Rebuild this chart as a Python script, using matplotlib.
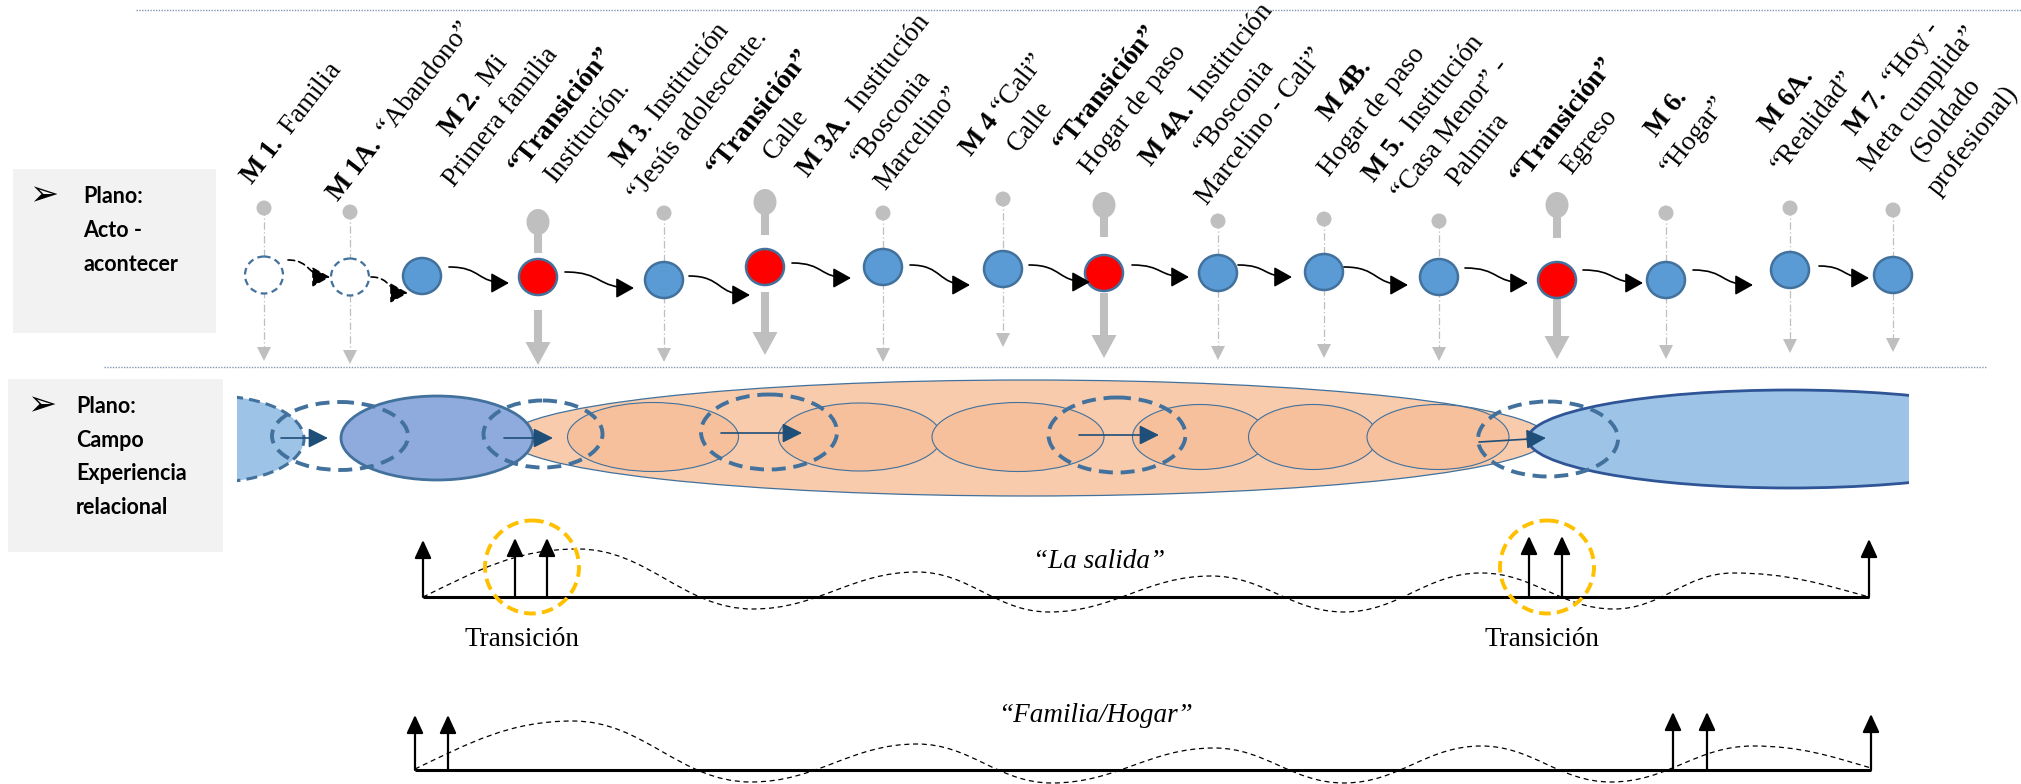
import matplotlib
matplotlib.use("Agg")
import matplotlib.pyplot as plt
from matplotlib.patches import Ellipse, Rectangle, FancyArrowPatch, Polygon, PathPatch
from matplotlib.path import Path
import math

plt.rcParams['mathtext.fontset'] = 'custom'
plt.rcParams['mathtext.rm'] = 'Liberation Serif'
plt.rcParams['mathtext.bf'] = 'Liberation Serif:bold'
plt.rcParams['mathtext.it'] = 'Liberation Serif:italic'

# ---------------- data ----------------
# Plano: Acto - acontecer (moments)
node_x = [264, 350, 422, 538, 664, 765, 883, 1003, 1104, 1218, 1324, 1439, 1557, 1666, 1790, 1893]
node_y = [275, 277, 276, 277, 280, 267, 267, 269, 273, 273, 272, 277, 280, 280, 270, 275]
node_kind = ['empty', 'empty', 'moment', 'transition', 'moment', 'transition', 'moment', 'moment',
             'transition', 'moment', 'moment', 'moment', 'transition', 'moment', 'moment', 'moment']
pin_top = [208, 212, None, 222, 213, 202, 213, 199, 205, 221, 219, 221, 205, 213, 208, 210]
pin_tip = [361, 364, None, 365, 362, 355, 362, 347, 358, 360, 358, 361, 359, 359, 353, 352]
bar_upper_end = [None, None, None, 253, None, 235, None, None, 237, None, None, None, 238, None, None, None]
bar_lower_start = [None, None, None, 310, None, 292, None, None, 293, None, None, None, 297, None, None, None]

labels = [
    [r"$\mathbf{M\ 1.}$ Familia"],
    [r"$\mathbf{M\ 1A.}$ “Abandono”"],
    [r"$\mathbf{M\ 2.}$ Mi", "Primera familia"],
    [r"$\mathbf{“Transición”}$", "Institución."],
    [r"$\mathbf{M\ 3}$. Institución", "“Jesús adolescente."],
    [r"$\mathbf{“Transición”}$", "Calle"],
    [r"$\mathbf{M\ 3A.}$ Institución", "“Bosconia", "Marcelino”"],
    [r"$\mathbf{M\ 4}$ “Cali”", "Calle"],
    [r"$\mathbf{“Transición”}$", "Hogar de paso"],
    [r"$\mathbf{M\ 4A.}$ Institución", "“Bosconia", "Marcelino - Cali”"],
    [r"$\mathbf{M\ 4B.}$", "Hogar de paso"],
    [r"$\mathbf{M\ 5.}$ Institución", "“Casa Menor” -", "Palmira"],
    [r"$\mathbf{“Transición”}$", "Egreso"],
    [r"$\mathbf{M\ 6.}$", "“Hogar”"],
    [r"$\mathbf{M\ 6A.}$", "“Realidad”"],
    [r"$\mathbf{M\ 7.}$ “Hoy -", "Meta cumplida”", "(Soldado", "profesional)"],
]
label_cx = [292, 400, 501, 588, 698, 786, 918, 1030, 1133, 1261, 1372, 1478, 1590, 1694, 1814, 1973]
label_cy = [124, 112, 117, 132, 116, 134, 138, 126, 110, 127, 112, 150, 142, 135, 122, 141]

link_start = [(288, 260), (371, 277), (449, 267), (565, 272), (689, 276), (792, 263), (910, 265),
              (1029, 265), (1132, 265), (1238, 265), (1344, 267), (1465, 268), (1583, 270),
              (1693, 270), (1819, 266)]
link_end = [(330, 277), (408, 293), (509, 283), (634, 288), (750, 295), (851, 278), (970, 285),
            (1090, 282), (1189, 277), (1292, 277), (1408, 285), (1528, 283), (1643, 283),
            (1753, 285), (1869, 278)]
link_dashed = [True, True] + [False] * 13

# Plano: Campo experiencia relacional
inner_cx = [653, 860, 1018, 1200, 1313, 1438]
inner_w = [171, 163, 172, 135, 129, 142]
inner_h = [69, 68, 69, 65, 65, 65]
ring_cx = [340, 543, 769, 1117, 1548]
ring_cy = [436, 434, 432, 435, 439]
ring_w = [136, 119, 136, 137, 140]
ring_h = [68, 67, 75, 75, 75]
flow_start = [(281, 438), (504, 438), (721, 433), (1079, 435), (1479, 442)]
flow_end = [(328, 438), (553, 438), (802, 433), (1159, 435), (1546, 438)]

# Timelines
salida_x = [423, 1869]
salida_base = 597
salida_arrows = [423, 515, 547, 1529, 1562, 1869]
salida_tips = [540, 538, 538, 536, 536, 539]
salida_wave_x = [423, 578, 753, 917, 1049, 1211, 1344, 1481, 1614, 1733, 1869]
salida_wave_y = [597, 549, 609, 572, 612, 576, 612, 573, 609, 573, 597]
trans_circle_x = [532, 1547]

hogar_x = [415, 1871]
hogar_base = 770
hogar_arrows = [415, 448, 1673, 1707, 1871]
hogar_tips = [715, 715, 712, 712, 714]
hogar_wave_x = [415, 573, 751, 917, 1052, 1214, 1344, 1481, 1611, 1753, 1871]
hogar_wave_y = [769, 721, 782, 744, 783, 748, 783, 746, 782, 746, 768]

# ---------------- style ----------------
W, H = 2021, 784
EDGE = '#41719C'
GRAY = '#BFBFBF'
SERIF = 'Liberation Serif'
ROT = 52
LS = 34

fig = plt.figure(figsize=(W / 100, H / 100), dpi=100)
ax = fig.add_axes([0, 0, 1, 1])
ax.set_xlim(0, W)
ax.set_ylim(H, 0)
ax.axis('off')

# separators
ax.plot([136, W], [10, 10], color='#8497B0', lw=1.0, ls=(0, (1, 1)), zorder=1)
ax.plot([104, 1987], [367, 367], color='#8497B0', lw=1.0, ls=(0, (1, 1)), zorder=1)

# left boxes
ax.add_patch(Rectangle((13, 169), 203, 164, facecolor='#F2F2F2', edgecolor='none', zorder=1))
ax.add_patch(Rectangle((8, 379), 215, 173, facecolor='#F2F2F2', edgecolor='none', zorder=1))
box_font = dict(fontfamily='Lato', fontweight='bold', fontsize=15.5, color='black', va='baseline', ha='left', zorder=3)
ax.text(44, 195, '➢', fontfamily='DejaVu Sans', fontsize=25, ha='center', va='center', zorder=3)
for i, s in enumerate(['Plano:', 'Acto -', 'acontecer']):
    ax.text(83, 203 + i * 34, s, **box_font)
ax.text(42, 405, '➢', fontfamily='DejaVu Sans', fontsize=25, ha='center', va='center', zorder=3)
for i, s in enumerate(['Plano:', 'Campo', 'Experiencia', 'relacional']):
    ax.text(76, 413 + i * 33.5, s, **box_font)

# pins
for i, x in enumerate(node_x):
    if pin_top[i] is None:
        continue
    tip = pin_tip[i]
    if node_kind[i] == 'transition':
        ax.add_patch(Ellipse((x, pin_top[i]), 23, 26, facecolor=GRAY, edgecolor='none', zorder=2))
        ax.plot([x, x], [pin_top[i], bar_upper_end[i]], color=GRAY, lw=5.8, solid_capstyle='butt', zorder=2)
        ax.plot([x, x], [bar_lower_start[i], tip - 22], color=GRAY, lw=5.8, solid_capstyle='butt', zorder=2)
        ax.add_patch(Polygon([(x - 12.5, tip - 23), (x + 12.5, tip - 23), (x, tip)], closed=True,
                             facecolor=GRAY, edgecolor='none', zorder=2))
    else:
        ax.add_patch(Ellipse((x, pin_top[i]), 15, 15, facecolor=GRAY, edgecolor='none', zorder=2))
        ax.plot([x, x], [pin_top[i], tip - 12], color=GRAY, lw=0.9, ls=(0, (6, 2, 1, 2)), zorder=2)
        ax.add_patch(Polygon([(x - 7, tip - 14), (x + 7, tip - 14), (x, tip)], closed=True,
                             facecolor=GRAY, edgecolor='none', zorder=2))

# nodes
for x, y, kind in zip(node_x, node_y, node_kind):
    if kind == 'empty':
        e = Ellipse((x, y), 38, 37, facecolor='white', edgecolor=EDGE, lw=1.6, ls=(0, (3, 2)), zorder=5)
    elif kind == 'transition':
        e = Ellipse((x, y), 38, 36, facecolor='#FF0000', edgecolor=EDGE, lw=1.8, zorder=5)
    else:
        e = Ellipse((x, y), 38, 36, facecolor='#5B9BD5', edgecolor=EDGE, lw=1.8, zorder=5)
    ax.add_patch(e)


def s_curve(p0, p1):
    dx = p1[0] - p0[0]
    verts = [p0, (p0[0] + dx * 0.55, p0[1]), (p1[0] - dx * 0.55, p1[1]), p1]
    return Path(verts, [Path.MOVETO, Path.CURVE4, Path.CURVE4, Path.CURVE4])


for p0, p1, dashed in zip(link_start, link_end, link_dashed):
    arr = FancyArrowPatch(path=s_curve(p0, p1), arrowstyle='-|>,head_length=0.5,head_width=0.28',
                          mutation_scale=22, color='black', lw=1.2,
                          linestyle=(0, (4, 2.5)) if dashed else '-', zorder=6)
    ax.add_patch(arr)

# labels
th = math.radians(ROT)
for lines, cx, cy in zip(labels, label_cx, label_cy):
    n = len(lines)
    for k, s in enumerate(lines):
        off = (n - 1 - k) * LS
        px = cx - off * math.sin(th)
        py = cy - off * math.cos(th)
        ax.text(px, py, s, rotation=ROT, rotation_mode='anchor', ha='center', va='center',
                fontsize=19.5, fontfamily=SERIF, color='black', zorder=10)

# ---------- campo experiencia relacional ----------
DASH = (0, (3.6, 2.0))
left_clip = Rectangle((237, 0), W, H, transform=ax.transData)
lb = Ellipse((215, 439), 178, 86, facecolor='#9DC3E6', edgecolor=EDGE, lw=2.2, ls=DASH, zorder=2)
ax.add_patch(lb)
lb.set_clip_path(left_clip)

ax.add_patch(Ellipse((1028, 438), 1040, 116, facecolor='#F8CBAD', edgecolor=EDGE, lw=0.9, zorder=2))
for cx, w, h in zip(inner_cx, inner_w, inner_h):
    ax.add_patch(Ellipse((cx, 437), w, h, facecolor='#F5C09B', edgecolor=EDGE, lw=0.8, zorder=3))

ax.add_patch(Ellipse((437, 438), 192, 84, facecolor='#8FAADC', edgecolor=EDGE, lw=2.0, zorder=4))

right_clip = Rectangle((0, 0), 1909, H, transform=ax.transData)
rb = Ellipse((1790, 439), 524, 98, facecolor='#9DC3E6', edgecolor='#2F5597', lw=2.0, zorder=4)
ax.add_patch(rb)
rb.set_clip_path(right_clip)

for cx, cy, w, h in zip(ring_cx, ring_cy, ring_w, ring_h):
    ax.add_patch(Ellipse((cx, cy), w, h, facecolor='none', edgecolor=EDGE, lw=2.8, ls=DASH, zorder=6))

for p0, p1 in zip(flow_start, flow_end):
    ax.add_patch(FancyArrowPatch(p0, p1, arrowstyle='-|>,head_length=0.6,head_width=0.3',
                                 mutation_scale=20, color='#1F4E79', lw=1.2,
                                 shrinkA=0, shrinkB=0, zorder=7))


# ---------- timelines ----------
def wave_path(xs, ys):
    verts = [(xs[0], ys[0])]
    codes = [Path.MOVETO]
    n = len(xs)
    for i in range(n - 1):
        x0, y0, x1, y1 = xs[i], ys[i], xs[i + 1], ys[i + 1]
        dx = x1 - x0
        c1 = (x0 + dx * 0.35, y0 + (y1 - y0) * 0.55) if i == 0 else (x0 + dx * 0.4, y0)
        c2 = (x1 - dx * 0.35, y1 + (y0 - y1) * 0.55) if i == n - 2 else (x1 - dx * 0.4, y1)
        verts += [c1, c2, (x1, y1)]
        codes += [Path.CURVE4] * 3
    return Path(verts, codes)


def timeline(xr, base, arrows, tips, wx, wy):
    ax.plot(xr, [base, base], color='black', lw=2.2, solid_capstyle='butt', zorder=5)
    ax.add_patch(PathPatch(wave_path(wx, wy), facecolor='none', edgecolor='black', lw=0.9,
                           ls=(0, (4, 3)), zorder=4))
    for x, t in zip(arrows, tips):
        ax.add_patch(FancyArrowPatch((x, base), (x, t), arrowstyle='-|>,head_length=0.65,head_width=0.3',
                                     mutation_scale=17, color='black', lw=1.6,
                                     shrinkA=0, shrinkB=0, zorder=6))


timeline(salida_x, salida_base, salida_arrows, salida_tips, salida_wave_x, salida_wave_y)
timeline(hogar_x, hogar_base, hogar_arrows, hogar_tips, hogar_wave_x, hogar_wave_y)

for cx in trans_circle_x:
    ax.add_patch(Ellipse((cx, 567), 94, 93, facecolor='none', edgecolor='#FFC000', lw=2.8,
                         ls=(0, (3, 1.6)), zorder=7))
    ax.text(cx - 10 if cx < 1000 else cx - 5, 640, 'Transición', fontfamily=SERIF, fontsize=19.5,
            ha='center', va='center', zorder=8)

ax.text(1099, 562, '“La salida”', fontfamily=SERIF, fontstyle='italic', fontsize=19.5,
        ha='center', va='center', zorder=8)
ax.text(1095, 715, '“Familia/Hogar”', fontfamily=SERIF, fontstyle='italic', fontsize=19.5,
        ha='center', va='center', zorder=8)

fig.savefig('out.png', dpi=100)
